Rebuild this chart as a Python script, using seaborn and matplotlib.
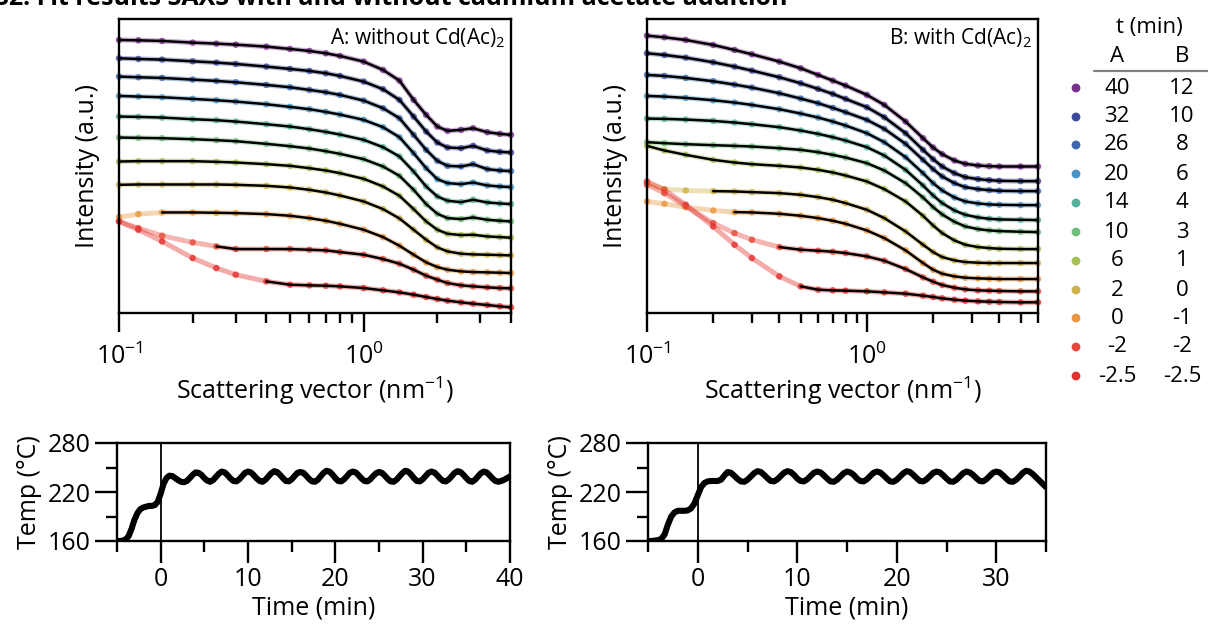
import numpy as np
import pandas as pd
import matplotlib
matplotlib.use("Agg")
import matplotlib.pyplot as plt
import seaborn as sns
from matplotlib.ticker import LogLocator, NullFormatter, FixedLocator, MultipleLocator

# ---------------------------------------------------------------- data
# scattering vector grids (nm^-1)
q_A = [0.1, 0.12, 0.15, 0.2, 0.25, 0.3, 0.4, 0.5, 0.6, 0.7, 0.8, 1.0, 1.2, 1.4,
       1.6, 1.8, 2.0, 2.2, 2.5, 2.8, 3.2, 3.6, 4.0]
q_B = [0.1, 0.12, 0.15, 0.2, 0.25, 0.3, 0.4, 0.5, 0.6, 0.7, 0.8, 1.0, 1.2, 1.5,
       1.8, 2.0, 2.2, 2.5, 2.8, 3.2, 3.6, 4.0, 5.0, 6.0]

# reaction times (min) of each curve, top to bottom
times_A = ["40", "32", "26", "20", "14", "10", "6", "2", "0", "-2", "-2.5"]
times_B = ["12", "10", "8", "6", "4", "3", "1", "0", "-1", "-2", "-2.5"]

# offset intensities (a.u.), panel A: without Cd(Ac)2
saxs_A_40 = [820, 819, 817, 812, 809, 806, 800, 793, 787, 780, 772, 755, 730, 698, 640, 595, 560, 547, 550, 555, 543, 538, 535]
saxs_A_32 = [765, 763, 761, 756, 752, 748, 740, 733, 727, 720, 712, 695, 672, 640, 590, 545, 512, 497, 495, 502, 488, 484, 482]
saxs_A_26 = [710, 708, 706, 701, 697, 693, 685, 678, 670, 663, 655, 638, 615, 585, 535, 490, 457, 442, 440, 447, 432, 428, 426]
saxs_A_20 = [652, 650, 648, 643, 639, 635, 627, 619, 612, 604, 596, 580, 558, 528, 480, 435, 402, 390, 387, 392, 383, 380, 378]
saxs_A_14 = [590, 589, 587, 582, 579, 575, 567, 560, 552, 544, 536, 520, 498, 470, 425, 380, 350, 337, 333, 340, 332, 329, 327]
saxs_A_10 = [527, 526, 525, 522, 519, 516, 508, 501, 494, 486, 478, 462, 440, 412, 370, 327, 298, 285, 282, 287, 280, 277, 275]
saxs_A_6 = [455, 456, 456, 456, 454, 452, 447, 442, 435, 428, 420, 403, 380, 352, 312, 275, 250, 238, 234, 235, 230, 228, 226]
saxs_A_2 = [385, 386, 386, 386, 386, 385, 382, 377, 370, 362, 353, 335, 312, 284, 250, 220, 197, 185, 178, 176, 175, 174, 173]
saxs_A_0 = [288, 297, 302, 302, 301, 300, 297, 292, 285, 277, 268, 250, 228, 202, 175, 152, 138, 130, 125, 123, 122, 121, 120]
saxs_A_m2 = [275, 255, 232, 212, 200, 192, 192, 192, 190, 188, 183, 175, 162, 148, 130, 112, 100, 90, 83, 80, 77, 75, 74]
saxs_A_m25 = [275, 250, 215, 165, 135, 115, 95, 85, 83, 82, 80, 75, 68, 62, 55, 48, 42, 37, 32, 28, 24, 20, 17]

# offset intensities (a.u.), panel B: with Cd(Ac)2
saxs_B_12 = [833, 828, 820, 805, 790, 777, 755, 735, 715, 698, 683, 655, 625, 575, 525, 497, 477, 458, 448, 443, 441, 440, 440, 440]
saxs_B_10 = [780, 775, 767, 753, 740, 728, 708, 690, 673, 658, 643, 618, 588, 540, 490, 462, 440, 420, 408, 402, 399, 397, 396, 396]
saxs_B_8 = [715, 712, 706, 696, 686, 677, 660, 644, 630, 616, 603, 580, 553, 508, 460, 432, 410, 390, 378, 372, 369, 367, 366, 366]
saxs_B_6 = [652, 650, 646, 639, 632, 625, 612, 599, 587, 575, 563, 540, 513, 468, 420, 390, 368, 347, 335, 329, 326, 325, 324, 324]
saxs_B_4 = [584, 583, 581, 577, 572, 567, 558, 548, 538, 528, 518, 498, 473, 430, 383, 353, 330, 308, 295, 287, 283, 281, 280, 279]
saxs_B_3 = [513, 510, 507, 504, 502, 500, 495, 490, 483, 475, 467, 450, 428, 390, 347, 318, 296, 274, 260, 252, 248, 246, 244, 243]
saxs_B_1 = [502, 488, 475, 460, 452, 447, 442, 437, 430, 422, 413, 395, 372, 335, 292, 263, 240, 218, 205, 198, 195, 193, 192, 192]
saxs_B_0 = [390, 372, 368, 366, 365, 363, 360, 355, 348, 340, 330, 310, 285, 245, 205, 183, 168, 158, 153, 151, 150, 150, 150, 150]
saxs_B_m1 = [335, 328, 318, 308, 303, 302, 298, 292, 285, 277, 268, 248, 225, 188, 150, 130, 118, 110, 106, 104, 103, 102, 102, 102]
saxs_B_m2 = [385, 360, 320, 270, 240, 220, 198, 190, 187, 184, 180, 170, 157, 132, 107, 94, 84, 76, 71, 68, 67, 66, 65, 65]
saxs_B_m25 = [395, 370, 325, 260, 205, 165, 110, 80, 70, 68, 67, 65, 62, 58, 52, 48, 44, 40, 37, 35, 34, 33, 32, 32]

# lowest q covered by the model fit of each curve
fit_start_A = [0.1, 0.1, 0.1, 0.1, 0.1, 0.1, 0.1, 0.1, 0.15, 0.25, 0.4]
fit_start_B = [0.1, 0.1, 0.1, 0.1, 0.1, 0.1, 0.1, 0.2, 0.25, 0.4, 0.5]

# temperature logs, sampled every 1/3 min
temp_A = [160, 160, 160.5, 162, 166, 175, 186, 194, 199, 201, 202, 203, 203, 204, 208, 218, 230, 237,
          240, 239.5, 237, 234.5, 232.5, 232, 233.5, 237, 241,
          244, 243.5, 241, 237, 234, 232.5, 234.5, 238.5, 242.5,
          245, 244, 240.5, 236.5, 233.5, 233, 235.5, 239.5, 243.5,
          245, 244, 240.5, 236.5, 233.5, 232.5, 235, 239, 243,
          245.5, 244.5, 241, 237, 233.5, 233, 235.5, 239.5, 243.5,
          244.5, 243.5, 240, 236, 233, 232.5, 235, 239.5, 243.5,
          246, 245, 241.5, 237, 233.5, 233, 235.5, 239.5, 243.5,
          245, 244, 240.5, 236.5, 233.5, 233, 235.5, 239.5, 243,
          244.5, 243.5, 240, 236, 233, 232.5, 235, 239, 243,
          246, 245, 241.5, 237, 233.5, 233, 235.5, 239.5, 243.5,
          245, 244, 240.5, 236.5, 233.5, 233, 235.5, 239.5, 243.5,
          245.5, 244.5, 241, 237, 233.5, 232.5, 235, 239, 243,
          245, 244, 240.5, 236.5, 233.5, 232.5, 233.5, 235, 237, 239]
temp_B = [160, 160, 160.5, 161, 162.5, 168, 180, 190, 195, 197, 197, 197, 197.5, 200, 206,
          216, 226, 231, 233, 233.5, 233.5, 233.5, 235, 240,
          244.5, 243.5, 240, 236, 233, 232.5, 235, 239, 243,
          245.5, 244.5, 241, 237, 233.5, 233, 235.5, 239.5, 243.5,
          245.5, 244.5, 241, 236.5, 233.5, 233, 235.5, 239.5, 243.5,
          245, 244, 240.5, 236.5, 233, 232.5, 235, 239, 243,
          245, 244, 241, 236.5, 233.5, 233, 235.5, 239.5, 243.5,
          245, 244, 240.5, 236.5, 233, 232.5, 235, 239, 243,
          245.5, 244.5, 241, 237, 233.5, 233, 235.5, 239.5, 243.5,
          245, 244, 240.5, 236.5, 233, 232.5, 235, 239, 243,
          245, 244, 241, 237, 233.5, 233, 235.5, 239.5, 243.5,
          245, 244, 240.5, 236.5, 233, 232.5, 235, 239, 243.5,
          246, 245, 242, 238, 234, 230, 226]
time_A = np.linspace(-5, 40, len(temp_A))
time_B = np.linspace(-5, 35, len(temp_B))

colors = ["#7a2f8f", "#3c4a9e", "#3b68b1", "#4893c5", "#55b09c", "#72bf7b",
          "#a3c155", "#cdb24a", "#e9963f", "#e6483a", "#e4312f"]

series_A = [saxs_A_40, saxs_A_32, saxs_A_26, saxs_A_20, saxs_A_14, saxs_A_10,
            saxs_A_6, saxs_A_2, saxs_A_0, saxs_A_m2, saxs_A_m25]
series_B = [saxs_B_12, saxs_B_10, saxs_B_8, saxs_B_6, saxs_B_4, saxs_B_3,
            saxs_B_1, saxs_B_0, saxs_B_m1, saxs_B_m2, saxs_B_m25]


def long_frame(q, series, labels, starts):
    rows = []
    for lab, vals, q0 in zip(labels, series, starts):
        for qq, v in zip(q, vals):
            rows.append((lab, qq, v, qq >= q0 - 1e-9))
    return pd.DataFrame(rows, columns=["curve", "q", "I", "fit"])


df_A = long_frame(q_A, series_A, times_A, fit_start_A)
df_B = long_frame(q_B, series_B, times_B, fit_start_B)

# ---------------------------------------------------------------- style
sns.set_theme(style="ticks")
plt.rcParams["font.family"] = ["Open Sans", "DejaVu Sans"]
plt.rcParams["mathtext.fontset"] = "custom"
plt.rcParams["mathtext.rm"] = "Open Sans"
plt.rcParams["mathtext.it"] = "Open Sans:italic"
plt.rcParams["mathtext.bf"] = "Open Sans:bold"
plt.rcParams["axes.linewidth"] = 1.7
plt.rcParams["axes.edgecolor"] = "black"
plt.rcParams["xtick.color"] = "black"
plt.rcParams["ytick.color"] = "black"
plt.rcParams["text.color"] = "black"
plt.rcParams["axes.labelcolor"] = "black"

LABEL = 18
TICK = 18
KEY = 16

W, H = 1208, 628
fig = plt.figure(figsize=(W / 100, H / 100), dpi=100)


def frac(left, top, right, bottom):
    return [left / W, 1 - bottom / H, (right - left) / W, (bottom - top) / H]


ax_A = fig.add_axes(frac(119, 19, 511, 313))
ax_B = fig.add_axes(frac(647, 19, 1038, 313))
ax_C = fig.add_axes(frac(117, 443, 510, 541))
ax_D = fig.add_axes(frac(648, 443, 1046, 541))


def saxs_panel(ax, df, labels, xmax, title):
    pal = dict(zip(labels, colors))
    sns.lineplot(data=df, x="q", y="I", hue="curve", hue_order=labels, palette=pal,
                 units="curve", estimator=None, lw=3.6, alpha=0.4, legend=False, ax=ax)
    sns.scatterplot(data=df, x="q", y="I", hue="curve", hue_order=labels, palette=pal,
                    s=22, alpha=0.8, linewidth=0, legend=False, ax=ax, clip_on=False)
    sns.lineplot(data=df[df["fit"]], x="q", y="I", units="curve", estimator=None,
                 color="black", lw=1.8, legend=False, ax=ax)
    ax.set_xscale("log")
    ax.set_xlim(0.1, xmax)
    ax.set_ylim(0, 883)
    ax.xaxis.set_major_locator(LogLocator(base=10, numticks=10))
    ax.xaxis.set_minor_locator(LogLocator(base=10, subs=np.arange(2, 10), numticks=20))
    ax.xaxis.set_minor_formatter(NullFormatter())
    ax.set_yticks([])
    ax.tick_params(axis="x", which="major", length=14, width=1.7, direction="out",
                   labelsize=TICK, pad=8)
    ax.tick_params(axis="x", which="minor", length=7, width=1.7, direction="out")
    ax.set_xlabel("Scattering vector (nm$^{-1}$)", fontsize=LABEL, labelpad=3)
    ax.set_ylabel("Intensity (a.u.)", fontsize=LABEL, labelpad=14)
    ax.text(0.985, 0.975, title, transform=ax.transAxes, ha="right", va="top", fontsize=15)
    for s in ax.spines.values():
        s.set_visible(True)
        s.set_linewidth(1.7)


saxs_panel(ax_A, df_A, times_A, 4.0, "A: without Cd(Ac)$_2$")
saxs_panel(ax_B, df_B, times_B, 6.0, "B: with Cd(Ac)$_2$")


def temp_panel(ax, t, T, xmax, major):
    sns.lineplot(x=t, y=T, color="black", lw=4.4, ax=ax, solid_capstyle="round")
    ax.axvline(0, color="black", lw=1.3)
    ax.set_xlim(-5, xmax)
    ax.set_ylim(160, 280)
    ax.xaxis.set_major_locator(FixedLocator(major))
    ax.xaxis.set_minor_locator(MultipleLocator(5))
    ax.yaxis.set_major_locator(FixedLocator([160, 220, 280]))
    ax.yaxis.set_minor_locator(FixedLocator([190, 250]))
    ax.tick_params(which="major", length=16, width=1.7, direction="out", labelsize=TICK, pad=3)
    ax.tick_params(which="minor", length=8, width=1.7, direction="out")
    ax.set_xlabel("Time (min)", fontsize=LABEL, labelpad=2)
    ax.set_ylabel("Temp (°C)", fontsize=LABEL, labelpad=4)
    for s in ax.spines.values():
        s.set_visible(True)
        s.set_linewidth(1.7)


temp_panel(ax_C, time_A, temp_A, 40, [0, 10, 20, 30, 40])
temp_panel(ax_D, time_B, temp_B, 35, [0, 10, 20, 30])

# ---------------------------------------------------------------- key
ax_K = fig.add_axes([1040 / W, 0, 168 / W, 1])
row_y = [88, 117, 145, 174, 203, 232, 261, 290, 318, 347, 376]
key = pd.DataFrame({"x": [1076] * len(row_y), "y": row_y, "c": times_A})
sns.scatterplot(data=key, x="x", y="y", hue="c", hue_order=times_A,
                palette=dict(zip(times_A, colors)), s=40, linewidth=0,
                legend=False, ax=ax_K)
ax_K.set_xlim(1040, 1208)
ax_K.set_ylim(628, 0)
ax_K.axis("off")
ax_K.text(1149, 27, "t (min)", ha="center", va="center", fontsize=KEY)
ax_K.text(1117, 57, "A", ha="center", va="center", fontsize=KEY)
ax_K.text(1182, 57, "B", ha="center", va="center", fontsize=KEY)
ax_K.plot([1094, 1208], [71, 71], color="#808080", lw=1.6)
for y, a, b in zip(row_y, times_A, times_B):
    ax_K.text(1117, y, a, ha="center", va="center", fontsize=KEY)
    ax_K.text(1182, y, b, ha="center", va="center", fontsize=KEY)

fig.text(-0.004, 1 - 4.7 / H, "S2: Fit results SAXS with and without cadmium acetate addition",
         fontweight="bold", fontsize=18, ha="left", va="baseline")

fig.savefig("out.png", dpi=100)
